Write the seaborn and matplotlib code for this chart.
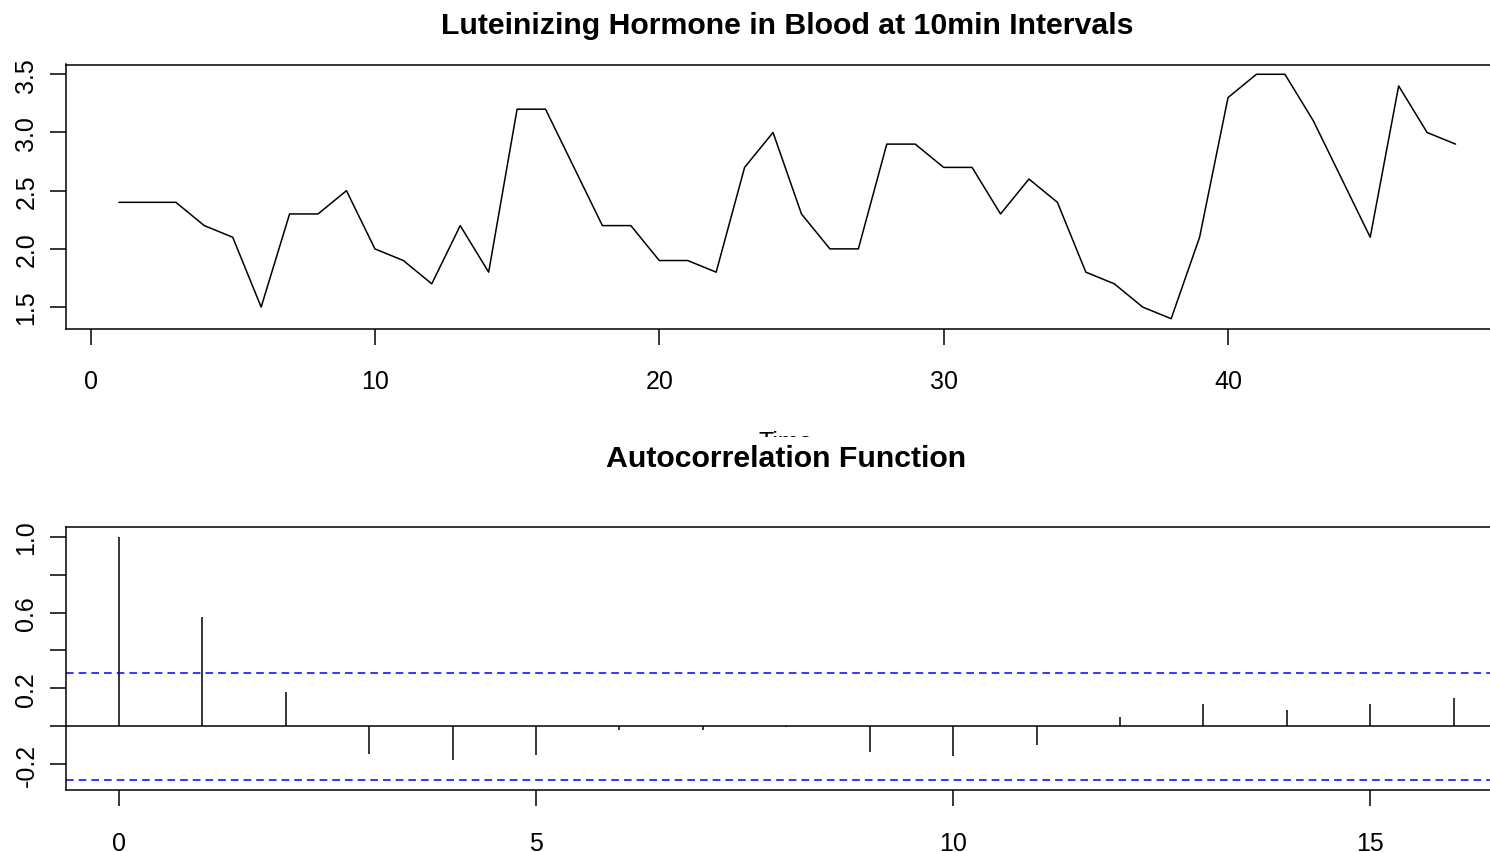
import numpy as np
import pandas as pd
import matplotlib
matplotlib.use("Agg")
import matplotlib.pyplot as plt
from matplotlib.patches import Rectangle
import seaborn as sns

# Luteinizing hormone samples, one every 10 minutes
time_index = list(range(1, 49))
lh_values = [2.4, 2.4, 2.4, 2.2, 2.1, 1.5, 2.3, 2.3, 2.5, 2.0, 1.9, 1.7,
             2.2, 1.8, 3.2, 3.2, 2.7, 2.2, 2.2, 1.9, 1.9, 1.8, 2.7, 3.0,
             2.3, 2.0, 2.0, 2.9, 2.9, 2.7, 2.7, 2.3, 2.6, 2.4, 1.8, 1.7,
             1.5, 1.4, 2.1, 3.3, 3.5, 3.5, 3.1, 2.6, 2.1, 3.4, 3.0, 2.9]

# Sample autocorrelation by lag
acf_lags = list(range(0, 17))
acf_values = [1.000, 0.576, 0.182, -0.145, -0.175, -0.150, -0.021, -0.020,
              -0.004, -0.136, -0.154, -0.097, 0.049, 0.120, 0.087, 0.119, 0.151]
conf_bound = 0.283

top_xticks = [0, 10, 20, 30, 40]
top_yticks = [1.5, 2.0, 2.5, 3.0, 3.5]
top_yticklabels = ["1.5", "2.0", "2.5", "3.0", "3.5"]
acf_xticks = [0, 5, 10, 15]
acf_yticks = [-0.2, 0.0, 0.2, 0.4, 0.6, 0.8, 1.0]
acf_yticklabels = ["-0.2", "", "0.2", "", "0.6", "", "1.0"]

sns.set_style("ticks")
plt.rcParams["font.family"] = ["Liberation Sans", "DejaVu Sans"]
plt.rcParams["axes.linewidth"] = 1.0
plt.rcParams["text.color"] = "black"
plt.rcParams["axes.edgecolor"] = "black"

W, H = 1490, 853
fig = plt.figure(figsize=(W / 100, H / 100), dpi=100)
fig.patch.set_facecolor("white")


def rect(left, top, right, bottom):
    return [left / W, 1 - bottom / H, (right - left) / W, (bottom - top) / H]


def style_axes(ax):
    ax.set_facecolor("white")
    for side in ("left", "bottom", "top", "right"):
        ax.spines[side].set_visible(True)
        ax.spines[side].set_color("black")
        ax.spines[side].set_linewidth(1.1)
    ax.tick_params(axis="both", direction="out", length=11.5, width=1.1,
                   color="black", labelsize=18, labelcolor="black")
    ax.tick_params(axis="x", pad=18)
    ax.tick_params(axis="y", pad=8, labelrotation=90)
    for lab in ax.get_yticklabels():
        lab.set_va("center")
    ax.set_xlabel("")
    ax.set_ylabel("")


# --- time series panel ---
ax1 = fig.add_axes(rect(65.5, 65.5, 1509, 329.5))
df = pd.DataFrame({"Time": time_index, "lh": lh_values})
sns.lineplot(data=df, x="Time", y="lh", ax=ax1, color="black", linewidth=1.1)
ax1.set_xlim(-0.88, 49.88)
ax1.set_ylim(1.316, 3.584)
ax1.set_xticks(top_xticks)
ax1.set_xticklabels([str(t) for t in top_xticks])
ax1.set_yticks(top_yticks)
ax1.set_yticklabels(top_yticklabels)
style_axes(ax1)

# --- autocorrelation panel ---
ax2 = fig.add_axes(rect(65.5, 528.3, 1507, 790.7))
acf_df = pd.DataFrame({"lag": acf_lags, "acf": acf_values})
ax2.vlines(acf_df["lag"], 0, acf_df["acf"], color="black", linewidth=1.1)
ax2.axhline(0, color="black", linewidth=1.1)
for b in (conf_bound, -conf_bound):
    ax2.axhline(b, color="#0000FF", linewidth=1.1, linestyle=(0, (5.0, 3.3)))
ax2.set_xlim(-0.64, 16.64)
ax2.set_ylim(-0.334, 1.0496)
ax2.set_xticks(acf_xticks)
ax2.set_xticklabels([str(t) for t in acf_xticks])
ax2.set_yticks(acf_yticks)
ax2.set_yticklabels(acf_yticklabels)
style_axes(ax2)

# titles and the axis label of the upper panel
fig.text(787 / W, 1 - 34 / H, "Luteinizing Hormone in Blood at 10min Intervals",
         ha="center", va="baseline", fontsize=21.8, fontweight="bold",
         color="black", zorder=3)
fig.text(786 / W, 1 - 450 / H, "Time", ha="center", va="baseline",
         fontsize=18, color="black", zorder=2)
fig.add_artist(Rectangle((0, 1 - 520 / H), 1, (520 - 437.7) / H,
                         transform=fig.transFigure, facecolor="white",
                         edgecolor="none", zorder=2.5))
fig.text(786 / W, 1 - 467 / H, "Autocorrelation Function",
         ha="center", va="baseline", fontsize=21.8, fontweight="bold",
         color="black", zorder=3)

fig.savefig("out.png", dpi=100, facecolor="white")
